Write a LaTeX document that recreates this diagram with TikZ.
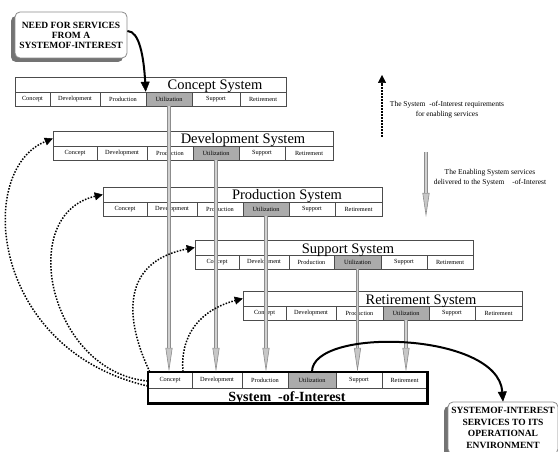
\documentclass[tikz,border=0pt]{standalone}
\usepackage{fontspec}
\setmainfont{Liberation Serif}
\usetikzlibrary{arrows.meta,shadows}

\tikzset{
  cell/.style={draw=black!70, line width=0.5pt, fill=white, minimum height=14pt,
    inner sep=0pt, font=\fontsize{6.3}{7}\selectfont},
  util/.style={fill=black!33},
  toprow/.style={draw=black!70, line width=0.5pt, fill=white, minimum height=15pt, inner sep=0pt},
  ttl/.style={anchor=base, inner sep=0pt, font=\fontsize{14.5}{16}\selectfont},
  garrow/.style={draw=black!45, line width=3.6pt,
    -{Triangle[length=24pt,width=7pt,line width=0.6pt,fill=black!22]},
    postaction={draw=black!18, line width=1.4pt, shorten >=24pt, -}},
  dotarrow/.style={draw=black, line width=1.5pt, dash pattern=on 1.5pt off 1.5pt,
    -{Triangle[length=8pt,width=8pt,line width=0.5pt]}},
  solidarrow/.style={draw=black, line width=2pt, -{Triangle[length=10pt,width=9pt,line width=0.5pt]}},
  callout/.style={draw=black!45, line width=0.8pt, fill=white, rounded corners=5pt,
    align=center, inner sep=2pt, font=\fontsize{9.5}{10}\selectfont\bfseries,
    drop shadow={shadow xshift=-4pt, shadow yshift=-4pt, fill=black!55, opacity=1}},
  legend/.style={align=center, inner sep=0pt, font=\fontsize{7.5}{10}\selectfont},
}

% one row of six life-cycle stage cells: prefix, centre y, seven cell boundaries
\def\lcells#1#2#3,#4,#5,#6,#7,#8,#9;{%
  \node[cell, minimum width={#4-#3}] (#1-con) at ({(#3+#4)/2},#2) {Concept};
  \node[cell, minimum width={#5-#4}] (#1-dev) at ({(#4+#5)/2},#2) {Development};
  \node[cell, minimum width={#6-#5}] (#1-pro) at ({(#5+#6)/2},#2) {Production};
  \node[cell, util, minimum width={#7-#6}] (#1-uti) at ({(#6+#7)/2},#2) {Utilization};
  \node[cell, minimum width={#8-#7}] (#1-sup) at ({(#7+#8)/2},#2) {Support};
  \node[cell, minimum width={#9-#8}] (#1-ret) at ({(#8+#9)/2},#2) {Retirement};
}

\begin{document}
\begin{tikzpicture}[x=1pt,y=-1pt]
\useasboundingbox (0,0) rectangle (558,452);

% enabling systems
\node[toprow, minimum width={286-15}] (con-top) at ({(15+286)/2},84.5) {};
\lcells{con}{99}15,50,100,146,192,240,286;
\node[ttl] (con-name) at (215,90) {Concept System};

\node[toprow, minimum width={333-53}] (dev-top) at ({(53+333)/2},138.5) {};
\lcells{dev}{153}53,97,147,193,239,285,333;
\node[ttl] (dev-name) at (243,144) {Development System};

\node[toprow, minimum width={382-103}] (pro-top) at ({(103+382)/2},194.5) {};
\lcells{pro}{209}103,147,197,243,289,335,382;
\node[ttl] (pro-name) at (287,200) {Production System};

\node[toprow, minimum width={473-195}] (sup-top) at ({(195+473)/2},247.5) {};
\lcells{sup}{262}195,239,289,334,381,427,473;
\node[ttl] (sup-name) at (348,253) {Support System};

\node[toprow, minimum width={522-243}] (ret-top) at ({(243+522)/2},298.5) {};
\lcells{ret}{313}243,286,336,383,429,475,522;
\node[ttl] (ret-name) at (421,304) {Retirement System};

% system of interest
\begin{scope}[cell/.append style={minimum height=16pt}]
\lcells{soi}{380}148,192,242,288,336,382,427;
\end{scope}
\node[toprow, draw=none, fill=none, minimum width={427-148}, minimum height=15pt] (soi-top) at (287.5,395.5) {};
\draw[line width=2.5pt] (soi-con.north west) rectangle (soi-top.south east);
\node[ttl, font=\fontsize{14}{16}\selectfont\bfseries] (soi-name) at (287,401) {System\ \ -of-Interest};

% services delivered by the enabling systems
\draw[garrow] (con-uti.south) -- (con-uti.south |- soi-con.north);
\draw[garrow] (dev-uti.south) -- (dev-uti.south |- soi-dev.north);
\draw[garrow] (pro-uti.south) -- (pro-uti.south |- soi-pro.north);
\draw[garrow] (sup-uti.south) -- (sup-uti.south |- soi-sup.north);
\draw[garrow] (ret-uti.south) -- (ret-uti.south |- soi-ret.north);

% requirements for enabling services
\draw[dotarrow] ([yshift=-6pt]soi-con.west) .. controls (-10,350) and (-25,170) .. (dev-top.west);
\draw[dotarrow] ([yshift=-1pt]soi-con.west) .. controls (50,372) and (15,215) .. (pro-top.west);
\draw[dotarrow] ([xshift=2pt]soi-con.north west) .. controls (125,320) and (120,262) .. (sup-top.west);
\draw[dotarrow] ([xshift=13pt]soi-con.north) .. controls (180,335) and (200,310) .. (ret-top.west);

% call-outs
\node[callout, minimum width=112pt, minimum height=46pt] (need) at (71,35)
  {NEED FOR SERVICES\\FROM A\\SYSTEMOF-INTEREST};
\node[callout, minimum width=110pt, minimum height=52pt, font=\fontsize{9.5}{11.5}\selectfont\bfseries] (out) at (503,428)
  {SYSTEMOF-INTEREST\\SERVICES TO ITS\\OPERATIONAL\\ENVIRONMENT};

\draw[solidarrow] ([yshift=4pt]need.east) .. controls +(12,0) and +(-2,-35) .. (con-uti.north west);
\draw[solidarrow] (soi-uti.north) .. controls +(0,-45) and +(-5,-70) .. (out.north);

% key
\coordinate (kd1) at (382,137);
\coordinate (kd2) at (382,75);
\draw[dotarrow] (kd1) -- (kd2);
\node[legend] (key-req) at (447,110) {The System\ \ -of-Interest requirements\\for enabling services};

\coordinate (kg1) at (426,152);
\coordinate (kg2) at (426,217);
\draw[garrow] (kg1) -- (kg2);
\node[legend] (key-svc) at (490,178) {The Enabling System services\\delivered to the System\hspace{8pt}-of-Interest};
\end{tikzpicture}
\end{document}
